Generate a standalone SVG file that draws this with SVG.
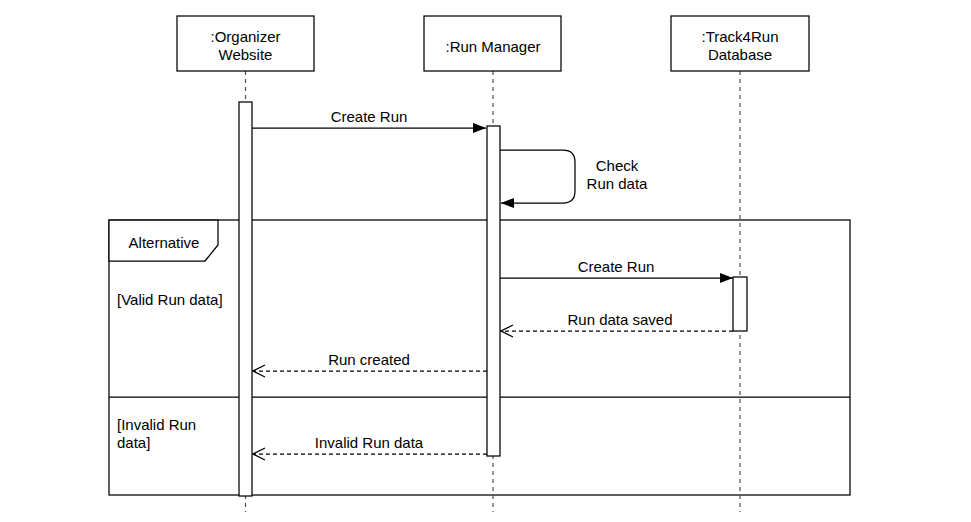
<svg xmlns="http://www.w3.org/2000/svg" width="971" height="522" viewBox="0 0 971 522">
<style>
text{font-family:"Liberation Sans",Arial,sans-serif;font-size:15px;fill:#000}
.box{fill:#fff;stroke:#000;stroke-width:1.25}
.life{stroke:#555;stroke-width:1.25;stroke-dasharray:4 4;fill:none}
.msg{stroke:#000;stroke-width:1.25;fill:none}
.ret{stroke:#000;stroke-width:1.25;fill:none;stroke-dasharray:4 3}
.frame{fill:none;stroke:#000;stroke-width:1.25}
</style>
<defs>
<marker id="filled" markerWidth="14" markerHeight="12" refX="13" refY="6" orient="auto" markerUnits="userSpaceOnUse">
<path d="M0,1 L13,6 L0,11 Z" fill="#000"/>
</marker>
<marker id="open" markerWidth="14" markerHeight="14" refX="13" refY="7" orient="auto" markerUnits="userSpaceOnUse">
<path d="M1,1 L13,7 L1,13" fill="none" stroke="#000" stroke-width="1.25"/>
</marker>
</defs>
<rect width="971" height="522" fill="#fff"/>
<g id="frame">
<rect class="frame" x="109" y="220" width="741" height="275"/>
<path d="M109,220 L218,220 L218,245 L205,261 L109,261 Z" fill="#fff" stroke="#000" stroke-width="1.25"/>
<text x="164" y="248" text-anchor="middle">Alternative</text>
<line class="frame" x1="109" y1="397" x2="850" y2="397"/>
<text x="117" y="305">[Valid Run data]</text>
<text x="117" y="430">[Invalid Run</text>
<text x="117" y="448">data]</text>
</g>
<g id="organizer">
<line class="life" x1="245.5" y1="71" x2="245.5" y2="512"/>
<rect class="box" x="177" y="16" width="137" height="55"/>
<text x="245.5" y="42" text-anchor="middle">:Organizer</text>
<text x="245.5" y="60" text-anchor="middle">Website</text>
<rect class="box" x="239" y="102" width="13" height="394"/>
</g>
<g id="runmanager">
<line class="life" x1="493" y1="71" x2="493" y2="512"/>
<rect class="box" x="424" y="16" width="137" height="55"/>
<text x="493" y="52" text-anchor="middle">:Run Manager</text>
<rect class="box" x="487" y="126" width="13" height="330"/>
</g>
<g id="database">
<line class="life" x1="740" y1="71" x2="740" y2="512"/>
<rect class="box" x="671" y="16" width="138" height="55"/>
<text x="740" y="42" text-anchor="middle">:Track4Run</text>
<text x="740" y="60" text-anchor="middle">Database</text>
<rect class="box" x="733" y="277" width="14" height="54"/>
</g>
<g id="connectors">
<line class="msg" x1="252" y1="128" x2="486" y2="128" marker-end="url(#filled)"/>
<text x="369" y="122" text-anchor="middle">Create Run</text>
<path class="msg" d="M500,150 L563,150 Q575,150 575,162 L575,191 Q575,203 563,203 L501,203" marker-end="url(#filled)"/>
<text x="617" y="171" text-anchor="middle">Check</text>
<text x="617" y="189" text-anchor="middle">Run data</text>
<line class="msg" x1="500" y1="278" x2="733" y2="278" marker-end="url(#filled)"/>
<text x="616" y="272" text-anchor="middle">Create Run</text>
<line class="ret" x1="733" y1="331" x2="501" y2="331" marker-end="url(#open)"/>
<text x="620" y="325" text-anchor="middle">Run data saved</text>
<line class="ret" x1="487" y1="371" x2="253" y2="371" marker-end="url(#open)"/>
<text x="369" y="365" text-anchor="middle">Run created</text>
<line class="ret" x1="487" y1="454" x2="253" y2="454" marker-end="url(#open)"/>
<text x="369" y="448" text-anchor="middle">Invalid Run data</text>
</g>
</svg>
